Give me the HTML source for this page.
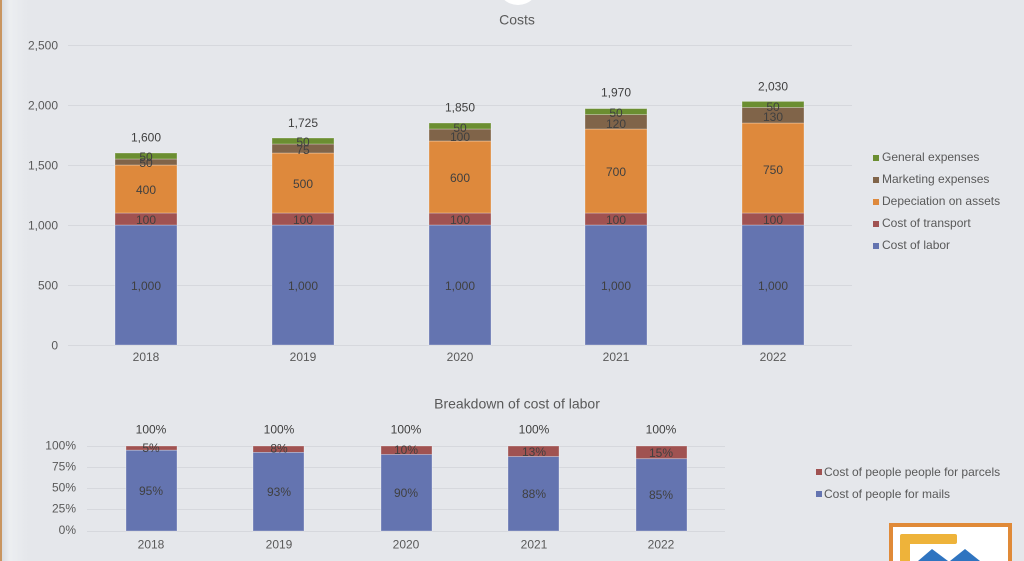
<!DOCTYPE html>
<html><head><meta charset="utf-8"><style>
html,body{margin:0;padding:0;width:1024px;height:561px;overflow:hidden;background:#e5e7eb}
svg{display:block;font-family:"Liberation Sans",Arial,sans-serif}
</style></head><body>
<svg width="1024" height="561" viewBox="0 0 1024 561" xmlns="http://www.w3.org/2000/svg">
<defs>
<linearGradient id="lg" x1="0" x2="1" y1="0" y2="0">
<stop offset="0" stop-color="#d9dce1"/><stop offset="0.3" stop-color="#eceef1"/><stop offset="1" stop-color="#e5e7eb"/>
</linearGradient>
</defs>
<rect x="0" y="0" width="1024" height="561" fill="#e5e7eb"/>
<rect x="2" y="0" width="26" height="561" fill="url(#lg)"/>
<rect x="0" y="0" width="2" height="561" fill="#c99560"/>
<ellipse cx="518" cy="-16" rx="21" ry="21" fill="#ffffff"/>
<text x="517" y="19.5" font-size="14" fill="#595959" text-anchor="middle" dominant-baseline="central">Costs</text>

<!-- main grid -->
<g stroke="#d6d8dd" stroke-width="1">
<line x1="68" x2="852" y1="45.5" y2="45.5"/>
<line x1="68" x2="852" y1="105.5" y2="105.5"/>
<line x1="68" x2="852" y1="165.5" y2="165.5"/>
<line x1="68" x2="852" y1="225.5" y2="225.5"/>
<line x1="68" x2="852" y1="285.5" y2="285.5"/>
<line x1="68" x2="852" y1="345.5" y2="345.5"/>
</g>
<g font-size="12" fill="#595959" text-anchor="end" dominant-baseline="central">
<text x="58" y="45.5">2,500</text>
<text x="58" y="105.5">2,000</text>
<text x="58" y="165.5">1,500</text>
<text x="58" y="225.5">1,000</text>
<text x="58" y="285.5">500</text>
<text x="58" y="345.5">0</text>
</g>
<g font-size="12" fill="#595959" text-anchor="middle" dominant-baseline="central">
<text x="146" y="357">2018</text>
<text x="303" y="357">2019</text>
<text x="460" y="357">2020</text>
<text x="616" y="357">2021</text>
<text x="773" y="357">2022</text>
</g>

<!-- bars -->
<g stroke="#ffffff" stroke-opacity="0.35" stroke-width="0.8">
<rect x="115" y="225" width="62" height="120" fill="#6474b0"/>
<rect x="115" y="213" width="62" height="12" fill="#a05251"/>
<rect x="115" y="165" width="62" height="48" fill="#de893c"/>
<rect x="115" y="159" width="62" height="6" fill="#806449"/>
<rect x="115" y="153" width="62" height="6" fill="#6b8e31"/>
<rect x="272" y="225" width="62" height="120" fill="#6474b0"/>
<rect x="272" y="213" width="62" height="12" fill="#a05251"/>
<rect x="272" y="153" width="62" height="60" fill="#de893c"/>
<rect x="272" y="144" width="62" height="9" fill="#806449"/>
<rect x="272" y="138" width="62" height="6" fill="#6b8e31"/>
<rect x="429" y="225" width="62" height="120" fill="#6474b0"/>
<rect x="429" y="213" width="62" height="12" fill="#a05251"/>
<rect x="429" y="141" width="62" height="72" fill="#de893c"/>
<rect x="429" y="129" width="62" height="12" fill="#806449"/>
<rect x="429" y="123" width="62" height="6" fill="#6b8e31"/>
<rect x="585" y="225" width="62" height="120" fill="#6474b0"/>
<rect x="585" y="213" width="62" height="12" fill="#a05251"/>
<rect x="585" y="129" width="62" height="84" fill="#de893c"/>
<rect x="585" y="114.6" width="62" height="14.4" fill="#806449"/>
<rect x="585" y="108.6" width="62" height="6" fill="#6b8e31"/>
<rect x="742" y="225" width="62" height="120" fill="#6474b0"/>
<rect x="742" y="213" width="62" height="12" fill="#a05251"/>
<rect x="742" y="123" width="62" height="90" fill="#de893c"/>
<rect x="742" y="107.4" width="62" height="15.6" fill="#806449"/>
<rect x="742" y="101.4" width="62" height="6" fill="#6b8e31"/>
</g>

<g font-size="12" fill="#404040" text-anchor="middle" dominant-baseline="central">
<text x="146" y="286">1,000</text><text x="146" y="220">100</text><text x="146" y="190">400</text><text x="146" y="163">50</text><text x="146" y="157">50</text><text x="146" y="137.5">1,600</text>
<text x="303" y="286">1,000</text><text x="303" y="220">100</text><text x="303" y="184">500</text><text x="303" y="150">75</text><text x="303" y="142">50</text><text x="303" y="123">1,725</text>
<text x="460" y="286">1,000</text><text x="460" y="220">100</text><text x="460" y="178">600</text><text x="460" y="137">100</text><text x="460" y="128">50</text><text x="460" y="107.5">1,850</text>
<text x="616" y="286">1,000</text><text x="616" y="220">100</text><text x="616" y="172">700</text><text x="616" y="124">120</text><text x="616" y="113">50</text><text x="616" y="92.5">1,970</text>
<text x="773" y="286">1,000</text><text x="773" y="220">100</text><text x="773" y="170">750</text><text x="773" y="117">130</text><text x="773" y="107">50</text><text x="773" y="86.5">2,030</text>
</g>

<!-- legend main -->
<rect x="873" y="155" width="6" height="6" fill="#6b8e31"/>
<rect x="873" y="177" width="6" height="6" fill="#806449"/>
<rect x="873" y="199" width="6" height="6" fill="#de893c"/>
<rect x="873" y="221" width="6" height="6" fill="#a05251"/>
<rect x="873" y="243" width="6" height="6" fill="#6474b0"/>
<g font-size="12" fill="#595959" dominant-baseline="central">
<text x="882" y="157">General expenses</text>
<text x="882" y="179">Marketing expenses</text>
<text x="882" y="201">Depeciation on assets</text>
<text x="882" y="223">Cost of transport</text>
<text x="882" y="245">Cost of labor</text>
</g>

<!-- bottom chart -->
<text x="517" y="403.5" font-size="14" fill="#595959" text-anchor="middle" dominant-baseline="central">Breakdown of cost of labor</text>
<g stroke="#d6d8dd" stroke-width="1">
<line x1="87" x2="725" y1="446.5" y2="446.5"/>
<line x1="87" x2="725" y1="467.5" y2="467.5"/>
<line x1="87" x2="725" y1="488.5" y2="488.5"/>
<line x1="87" x2="725" y1="509.5" y2="509.5"/>
<line x1="87" x2="725" y1="531.5" y2="531.5"/>
</g>
<g font-size="12" fill="#595959" text-anchor="end" dominant-baseline="central">
<text x="76" y="445.5">100%</text>
<text x="76" y="466.5">75%</text>
<text x="76" y="487.5">50%</text>
<text x="76" y="508.5">25%</text>
<text x="76" y="530">0%</text>
</g>
<g font-size="12" fill="#595959" text-anchor="middle" dominant-baseline="central">
<text x="151" y="544.5">2018</text>
<text x="279" y="544.5">2019</text>
<text x="406" y="544.5">2020</text>
<text x="534" y="544.5">2021</text>
<text x="661" y="544.5">2022</text>
</g>
<g stroke="#ffffff" stroke-opacity="0.35" stroke-width="0.8">
<rect x="126" y="446" width="51" height="4.25" fill="#a05251"/>
<rect x="126" y="450.25" width="51" height="80.75" fill="#6474b0"/>
<rect x="253" y="446" width="51" height="6.4" fill="#a05251"/>
<rect x="253" y="452.4" width="51" height="78.6" fill="#6474b0"/>
<rect x="381" y="446" width="51" height="8.5" fill="#a05251"/>
<rect x="381" y="454.5" width="51" height="76.5" fill="#6474b0"/>
<rect x="508" y="446" width="51" height="10.6" fill="#a05251"/>
<rect x="508" y="456.6" width="51" height="74.4" fill="#6474b0"/>
<rect x="636" y="446" width="51" height="12.75" fill="#a05251"/>
<rect x="636" y="458.75" width="51" height="72.25" fill="#6474b0"/>
</g>
<g font-size="12" fill="#404040" text-anchor="middle" dominant-baseline="central">
<text x="151" y="429.5">100%</text><text x="151" y="448">5%</text><text x="151" y="491">95%</text>
<text x="279" y="429.5">100%</text><text x="279" y="448.5">8%</text><text x="279" y="492">93%</text>
<text x="406" y="429.5">100%</text><text x="406" y="450">10%</text><text x="406" y="493">90%</text>
<text x="534" y="429.5">100%</text><text x="534" y="452">13%</text><text x="534" y="494">88%</text>
<text x="661" y="429.5">100%</text><text x="661" y="453">15%</text><text x="661" y="495">85%</text>
</g>
<rect x="816" y="469" width="6" height="6" fill="#a05251"/>
<rect x="816" y="491" width="6" height="6" fill="#6474b0"/>
<g font-size="12" fill="#595959" dominant-baseline="central">
<text x="824" y="472">Cost of people people for parcels</text>
<text x="824" y="494">Cost of people for mails</text>
</g>

<!-- logo -->
<rect x="891" y="525" width="119" height="40" fill="#ffffff" stroke="#e08a38" stroke-width="4"/>
<path d="M900 561 L900 536 Q900 534 902 534 L955 534 Q957 534 957 536 L957 542 Q957 544 955 544 L910 544 L910 561 Z" fill="#eeb33a"/>
<path d="M918 561 L932 549 L948 561 Z" fill="#2f74c0"/>
<path d="M950 561 L965 549 L980 561 Z" fill="#2f74c0"/>
</svg>
</body></html>
